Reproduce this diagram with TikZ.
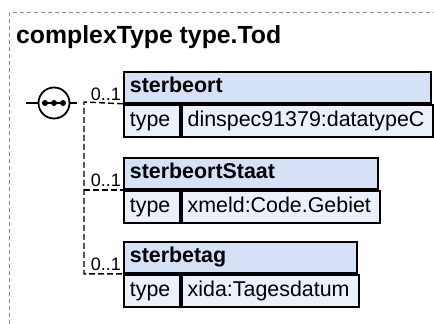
\documentclass[tikz,border=0pt]{standalone}
\usepackage{fontspec}
\setmainfont{Liberation Sans}
\usetikzlibrary{positioning}
\definecolor{headblue}{HTML}{D4E1F7}
\definecolor{bodyblue}{HTML}{EAF1FB}
\definecolor{framegray}{HTML}{8C8C8C}

\begin{document}
\begin{tikzpicture}[x=1pt, y=-1pt,
    elemhead/.style = {draw=black, line width=1.8pt, fill=headblue, anchor=north west, inner xsep=6pt, inner ysep=0pt, minimum height=31pt, text height=15.5pt, text depth=4.5pt, align=left, text width=#1, font=\fontsize{21.4}{24}\selectfont\bfseries},
    elemcell/.style = {draw=black, line width=1.8pt, fill=bodyblue, inner xsep=6pt, inner ysep=0pt, minimum height=32pt, text height=15.5pt, text depth=4.5pt, align=left, text width=#1, font=\fontsize{21.4}{24}\selectfont},
    occ/.style = {anchor=base east, inner sep=0pt, font=\fontsize{18}{21}\selectfont},
    conn/.style = {draw=black, line width=1.4pt, dash pattern=on 6pt off 3pt}
]
\useasboundingbox (0,0) rectangle (434,324);
\clip (0,0) rectangle (434,324);

% Frame and title
\draw [framegray, line width=1pt, dash pattern=on 4pt off 3pt] (9,12) rectangle (470,360);
\node (title) [anchor=base west, inner sep=0pt, font=\fontsize{24.8}{29}\selectfont\bfseries] at (16,43) {complexType type.Tod};

% Sequence compositor
\node (seq) [circle, draw=black, line width=1.8pt, fill=white, minimum size=31pt, inner sep=0pt] at (54,103) {};
\draw [line width=1.8pt] ([xshift=-12pt]seq.center) -- ([xshift=12pt]seq.center);
\foreach \dx in {-9,0,9}
    \fill ([xshift=\dx pt]seq.center) circle (3pt);
\coordinate (seq_in) at (26,103);
\coordinate (seq_out) at (77,103);
\draw [line width=1.8pt] (seq_in) -- (seq.west);
\draw [line width=1.8pt] (seq.east) -- (seq_out);

% Elements
\node (sterbeort_head) [elemhead=295pt] at (123,71) {sterbeort};
\node (sterbeort_key) [elemcell=44pt, anchor=north west] at (sterbeort_head.south west) {type};
\node (sterbeort_type) [elemcell=239pt, right=0pt of sterbeort_key] {dinspec91379:datatypeC};

\node (sterbeortStaat_head) [elemhead=242pt] at (123,157) {sterbeortStaat};
\node (sterbeortStaat_key) [elemcell=44pt, anchor=north west] at (sterbeortStaat_head.south west) {type};
\node (sterbeortStaat_type) [elemcell=186pt, right=0pt of sterbeortStaat_key] {xmeld:Code.Gebiet};

\node (sterbetag_head) [elemhead=221pt] at (123,241) {sterbetag};
\node (sterbetag_key) [elemcell=44pt, anchor=north west] at (sterbetag_head.south west) {type};
\node (sterbetag_type) [elemcell=165pt, right=0pt of sterbetag_key] {xida:Tagesdatum};

% Connections
\coordinate (fork) at (84,102);
\draw [conn] (sterbeort_head.south west) -- (fork) |- (sterbetag_head.south west);
\draw [conn] (fork |- sterbeortStaat_head.south west) -- (sterbeortStaat_head.south west);

\node (sterbeort_occ) [occ] at (121,100) {0..1};
\node (sterbeortStaat_occ) [occ] at (121,186) {0..1};
\node (sterbetag_occ) [occ] at (121,270) {0..1};

\end{tikzpicture}
\end{document}
